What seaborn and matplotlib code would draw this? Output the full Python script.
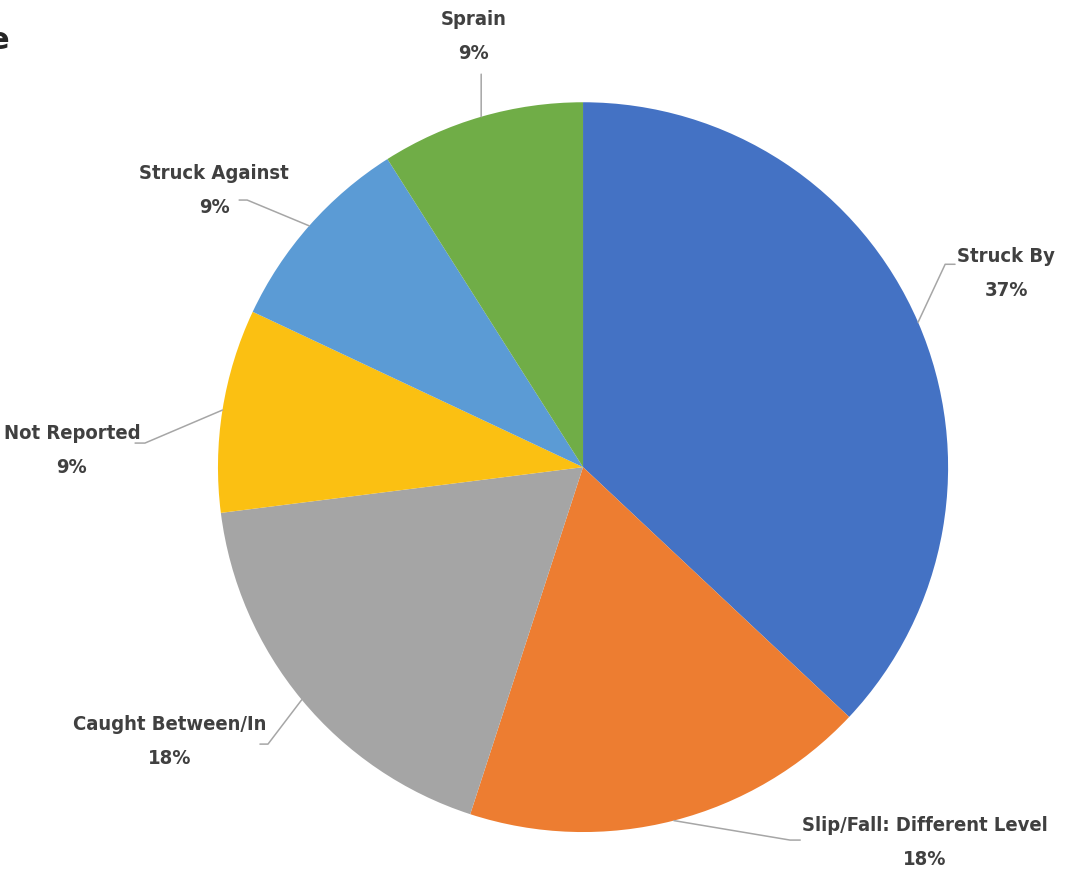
import numpy as np
import matplotlib.pyplot as plt
import seaborn as sns

# data
categories = ["Struck By", "Slip/Fall: Different Level", "Caught Between/In",
              "Not Reported", "Struck Against", "Sprain"]
shares = [37, 18, 18, 9, 9, 9]
colors = ["#4472C4", "#ED7D31", "#A5A5A5", "#FBC012", "#5B9BD5", "#70AD47"]

# label text centre and leader-line elbow / end (pie radius units)
label_xy = [(1.159, 0.532), (0.937, -1.030), (-1.132, -0.752),
            (-1.400, 0.047), (-1.010, 0.757), (-0.299, 1.181)]
elbow_xy = [(0.992, 0.556), (0.567, -1.022), (-0.863, -0.759),
            (-1.200, 0.066), (-0.920, 0.732), (-0.279, 1.077)]
end_xy = [(1.019, 0.556), (0.595, -1.022), (-0.885, -0.759),
          (-1.227, 0.066), (-0.942, 0.732), (-0.279, 1.077)]

sns.set_theme(style="white")
plt.rcParams['font.family'] = ['DejaVu Sans']

fig = plt.figure(figsize=(10.69, 8.74), dpi=100)
ax = fig.add_axes([0.2039, 0.048, 0.683, 0.835])
wedges, _ = ax.pie(shares, colors=colors, startangle=90, counterclock=False,
                   radius=1, wedgeprops=dict(linewidth=0))
ax.set_xlim(-1, 1)
ax.set_ylim(-1, 1)
ax.set_aspect('auto')
ax.axis('off')

for w, cat, pct, (tx, ty), (ex, ey), (kx, ky) in zip(
        wedges, categories, shares, label_xy, elbow_xy, end_xy):
    mid = np.deg2rad((w.theta1 + w.theta2) / 2)
    px, py = np.cos(mid), np.sin(mid)
    ax.plot([px, ex, kx], [py, ey, ky], color="#A6A6A6", lw=1.1,
            clip_on=False)
    ax.text(tx, ty, f"{cat}\n{pct}%", ha='center', va='center',
            fontsize=14.5, fontweight='bold', fontstretch='condensed',
            color="#404040", linespacing=2.0, clip_on=False)

# clipped title fragment at top-left
fig.text(0.009, 0.954, "e", ha='right', va='center', fontsize=22,
         fontweight='bold', color="#262626")

fig.savefig("out.png", dpi=100)
